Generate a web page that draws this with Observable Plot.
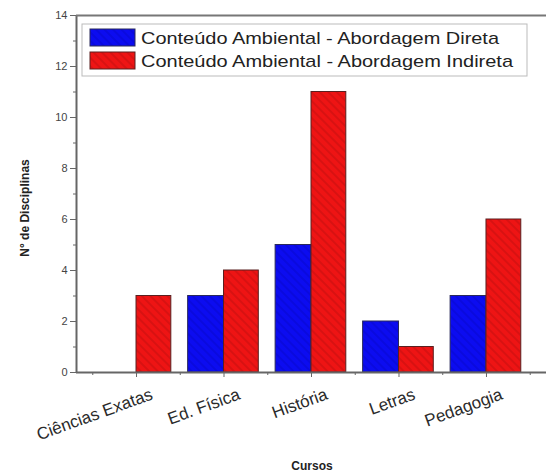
<!DOCTYPE html>
<html>
<head>
<meta charset="utf-8">
<script src="https://cdn.jsdelivr.net/npm/d3@7"></script>
<script src="https://cdn.jsdelivr.net/npm/@observablehq/plot@0.6"></script>
<style>
  html, body { margin: 0; padding: 0; background: #fff; }
  #chart { position: relative; width: 546px; height: 475px; overflow: hidden; }
</style>
</head>
<body>
<div id="chart"></div>
<script>
const categories = ["Ciências Exatas", "Ed. Física", "História", "Letras", "Pedagogia"];
const direta = [0, 3, 5, 2, 3];
const indireta = [3, 4, 11, 1, 6];
const seriesNames = ["Conteúdo Ambiental - Abordagem Direta", "Conteúdo Ambiental - Abordagem Indireta"];
const yTicks = [0, 2, 4, 6, 8, 10, 12, 14];
const yMinorTicks = [1, 3, 5, 7, 9, 11, 13];

const font = "'Liberation Sans', Arial, sans-serif";
const n = categories.length;
const xMin = 1 - 0.686, xMax = n + 0.686;
const bw = 0.41;
const noLabel = () => "";

const rows = categories.map((c, i) => ({i: i + 1, c, d: direta[i], r: indireta[i]}));

const plot = Plot.plot({
  width: 546,
  height: 475,
  marginLeft: 76,
  marginTop: 15,
  marginBottom: 103,
  marginRight: 0,
  style: {fontFamily: font, background: "#fff", overflow: "visible"},
  x: {type: "linear", domain: [xMin, xMax]},
  y: {domain: [0, 14]},
  marks: [
    Plot.rectY(rows.filter(d => d.d > 0), {x1: d => d.i - bw, x2: d => d.i, y1: 0, y2: "d", fill: "url(#hatchBlue)", stroke: "#2a2a5a", strokeWidth: 1}),
    Plot.rectY(rows.filter(d => d.r > 0), {x1: d => d.i, x2: d => d.i + bw * 0.97, y1: 0, y2: "r", fill: "url(#hatchRed)", stroke: "#5a2020", strokeWidth: 1}),
    Plot.ruleX([xMin], {stroke: "#666", strokeWidth: 2}),
    Plot.ruleY([0], {stroke: "#666", strokeWidth: 2}),
    Plot.ruleY([14], {stroke: "#777", strokeWidth: 2}),
    Plot.axisY({ticks: yTicks, tickSize: 6, tickPadding: 3, fontSize: 11, fill: "#444", stroke: "#666", label: null}),
    Plot.axisY({ticks: yMinorTicks, tickSize: 3, tickFormat: noLabel, stroke: "#666", label: null}),
    Plot.axisX({ticks: d3.range(1, n + 1), tickSize: 5, stroke: "#666", tickFormat: noLabel, label: null}),
    Plot.axisX({ticks: d3.range(1, n).map(v => v + 0.5).concat([0.5, n + 0.5]), tickSize: 3, stroke: "#666", tickFormat: noLabel, label: null}),
    Plot.text(rows, {x: d => d.i + 0.15, y: 0, dy: 15, text: "c", rotate: -20, textAnchor: "end", fontSize: 17, fill: "#2a2a2a", lineAnchor: "top"})
  ]
});

const svg = d3.select(plot);
const defs = svg.insert("defs", ":first-child");
function hatch(id, base, stripe) {
  const p = defs.append("pattern").attr("id", id).attr("patternUnits", "userSpaceOnUse")
    .attr("width", 6).attr("height", 6).attr("patternTransform", "rotate(45)");
  p.append("rect").attr("width", 6).attr("height", 6).attr("fill", base);
  p.append("rect").attr("width", 6).attr("height", 2).attr("fill", stripe);
}
hatch("hatchBlue", "#0c0cf0", "#0a0ade");
hatch("hatchRed", "#ee1414", "#d81212");

// axis titles
svg.append("text").attr("transform", "translate(29,208) rotate(-90)")
  .attr("text-anchor", "middle").attr("font-size", 12).attr("font-weight", "bold")
  .attr("font-family", font).attr("fill", "#222").text("N° de Disciplinas");
svg.append("text").attr("x", 312).attr("y", 470)
  .attr("text-anchor", "middle").attr("font-size", 12).attr("font-weight", "bold")
  .attr("font-family", font).attr("fill", "#222").text("Cursos");

// legend
const lg = svg.append("g");
lg.append("rect").attr("x", 82).attr("y", 24).attr("width", 445).attr("height", 52)
  .attr("fill", "#fff").attr("stroke", "#bbb").attr("stroke-width", 1);
const fills = ["url(#hatchBlue)", "url(#hatchRed)"];
seriesNames.forEach((s, k) => {
  const y = 29 + k * 23;
  lg.append("rect").attr("x", 90).attr("y", y).attr("width", 45).attr("height", 17)
    .attr("fill", fills[k]).attr("stroke", k ? "#5a2020" : "#2a2a5a");
  lg.append("text").attr("x", 141).attr("y", y + 14.5).attr("font-size", 17)
    .attr("text-anchor", "start")
    .attr("font-family", font).attr("fill", "#222").attr("textLength", k ? 372 : 358)
    .attr("lengthAdjust", "spacingAndGlyphs").text(s);
});

document.getElementById("chart").appendChild(plot);
</script>
</body>
</html>
